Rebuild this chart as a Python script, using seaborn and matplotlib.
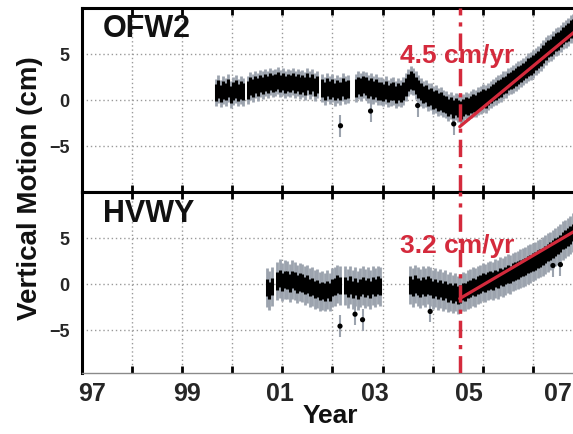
import numpy as np
import pandas as pd
import matplotlib
matplotlib.use("Agg")
import matplotlib.pyplot as plt
import seaborn as sns

# ---------------- data ----------------
step = 0.05
# OFW2 segments: (start year, values in cm every 0.05 yr)
ofw2_segments = [
    (1999.67, [0.8, 1.2, 0.7, 1.1, 0.9, 1.3, 0.6, 1.0, 1.2, 0.8, 1.1, 0.9]),
    (2000.31, [1.1, 1.5, 1.3, 1.7, 1.4, 1.8, 1.6, 1.9, 1.7, 2.0, 1.8, 1.9, 2.1, 1.8,
               2.0, 1.7, 1.9, 1.8, 2.0, 1.7, 1.9, 1.6]),
    (2001.40, [1.8, 1.5, 2.0, 1.6, 1.9, 1.4, 1.7]),
    (2001.80, [1.3, 1.0, 1.4, 1.1, 1.3, 0.9, 1.2, 1.0, 1.4, 1.1, 1.2]),
    (2002.46, [1.3, 1.6, 1.4, 1.7, 1.5, 1.2, 1.4, 1.1, 1.3, 1.0,
               1.0, 0.8, 1.1, 0.7, 0.9, 1.0, 0.6, 0.9, 0.7, 1.0,
               1.4, 1.9, 2.2, 2.0, 1.6, 1.2,
               0.9, 0.6, 0.7, 0.3, 0.4, 0.0, 0.1, -0.2, -0.1, -0.4,
               -0.5, -0.8, -0.6, -1.0, -0.7, -0.9, -1.1, -0.8, -0.6, -0.7,
               -0.5, -0.3, -0.4, -0.1, 0.0, 0.2, 0.1, 0.4, 0.6, 0.8,
               1.0, 1.2, 1.3, 1.6, 1.7, 2.0, 2.1, 2.3, 2.5, 2.7,
               2.9, 3.1, 3.3, 3.6, 3.7, 3.9, 4.2, 4.4, 4.7, 5.0,
               5.3, 5.6, 5.7, 6.0, 6.3, 6.4, 6.7, 7.0, 7.2, 7.4, 7.7, 7.9]),
]
ofw2_outlier_t = [2002.16, 2002.76, 2003.70, 2004.42]
ofw2_outlier_v = [-2.8, -1.2, -0.6, -2.6]

# HVWY segments
hvwy_segments = [
    (2000.69, [-0.4, -0.7, -0.3]),
    (2000.90, [0.3, 0.6, 0.2, 0.5, 0.4, 0.1, 0.5, 0.3, 0.0, 0.2,
               0.1, -0.2, 0.0, -0.4, -0.3, -0.6, -0.5, -0.8, -0.7, -0.9,
               -0.6, -0.9, -0.4, -0.3, 0.0, -0.2]),
    (2002.25, [-0.2, -0.5, -0.1, -0.6, -0.3, -0.7, -0.4, -0.2, -0.5, -0.3,
               -0.6, -0.2, -0.4, -0.1, -0.3]),
    (2003.55, [-0.1, -0.4, 0.0, -0.3, -0.5, -0.2, -0.4, -0.1, -0.3, -0.6,
               -0.4, -0.7, -0.5, -0.8, -0.6, -1.0, -0.8, -1.1, -0.9, -1.2,
               -1.1, -0.8, -0.9, -0.6, -0.5, -0.3, -0.4, -0.1, 0.0, 0.2,
               0.1, 0.3, 0.4, 0.3, 0.6, 0.5, 0.8, 0.7, 0.9, 1.1,
               1.0, 1.3, 1.4, 1.5, 1.7, 1.8, 1.9, 2.1, 2.2, 2.4,
               2.5, 2.7, 2.8, 3.0, 3.2, 3.4, 3.6, 3.8, 4.0, 4.2,
               4.4, 4.7, 4.9, 5.1, 5.3, 5.6, 5.8]),
]
hvwy_outlier_t = [2002.15, 2002.45, 2002.60, 2003.95, 2006.40, 2006.55]
hvwy_outlier_v = [-4.6, -3.3, -3.9, -3.0, 2.0, 2.1]

stations = ["OFW2", "HVWY"]
rates = [4.5, 3.2]              # cm/yr
fit_start_year = 2004.54
fit_start_value = [-2.9, -1.6]  # cm at fit start
fit_end_year = 2007.34

year_ticks = list(range(1997, 2008))
tick_labels = ["97", "99", "01", "03", "05", "07"]
tick_label_pos = [1997.2, 1999.1, 2000.95, 2002.85, 2004.72, 2006.5]
y_ticks = [-5, 0, 5]

RED = "#d42a3c"
GRAY = "#9ca3ae"


def seg_frame(segments):
    rows = []
    for start, vals in segments:
        for i, v in enumerate(vals):
            rows.append((start + i * step, v))
    return pd.DataFrame(rows, columns=["t", "v"])


# ---------------- figure ----------------
sns.set_style("white")
plt.rcParams["font.family"] = ["Liberation Sans", "DejaVu Sans"]
plt.rcParams["font.weight"] = "bold"

W, H = 573, 435
fig = plt.figure(figsize=(W / 100, H / 100), dpi=100)

left = 82 / W
width = (600 - 82) / W
ax_top = fig.add_axes([left, 1 - 193 / H, width, (193 - 9) / H])
ax_bot = fig.add_axes([left, 1 - 374 / H, width, (374 - 193) / H])

panels = [
    (ax_top, ofw2_segments, ofw2_outlier_t, ofw2_outlier_v, (-10, 10), 0.95, 1.5, 4.1),
    (ax_bot, hvwy_segments, hvwy_outlier_t, hvwy_outlier_v, (-9.7, 10), 0.95, 2.1, 3.5),
]

for k, (ax, segs, ot, ov, ylim, bhw, ghw, txt_y) in enumerate(panels):
    df = seg_frame(segs)
    ax.set_xlim(1997, fit_end_year)
    ax.set_ylim(*ylim)

    # grid
    ax.set_xticks(year_ticks, minor=True)
    ax.set_yticks(y_ticks)
    ax.grid(True, which="minor", axis="x", color="#9a9a9a", linestyle=(0, (1, 2)), lw=1.0)
    ax.grid(True, which="major", axis="y", color="#9a9a9a", linestyle=(0, (1, 2)), lw=1.0)
    ax.grid(False, which="major", axis="x")
    ax.set_axisbelow(True)

    # data: gray error bars, black scatter band
    ax.vlines(df["t"], df["v"] - ghw, df["v"] + ghw, color=GRAY, lw=2.0, zorder=2)
    ax.vlines(df["t"], df["v"] - bhw, df["v"] + bhw, color="black", lw=2.2, zorder=3)
    odf = pd.DataFrame({"t": ot, "v": ov})
    ax.vlines(odf["t"], odf["v"] - 1.2, odf["v"] + 1.2, color=GRAY, lw=1.5, zorder=2)
    sns.scatterplot(data=odf, x="t", y="v", ax=ax, color="black", s=14,
                    edgecolor="none", zorder=4, legend=False)

    # fit line
    fit = pd.DataFrame({
        "t": [fit_start_year, fit_end_year],
        "v": [fit_start_value[k],
              fit_start_value[k] + rates[k] * (fit_end_year - fit_start_year)],
    })
    sns.lineplot(data=fit, x="t", y="v", ax=ax, color=RED, lw=2.3, zorder=5)

    # event line
    ax.axvline(fit_start_year, color=RED, lw=2.5, linestyle=(0, (5, 2, 1.2, 2)), zorder=6)

    # rate label
    ax.text(2004.49, txt_y, f"{rates[k]} cm/yr", color=RED, fontsize=19,
            fontweight="bold", ha="center", va="baseline", zorder=7)
    # station label
    ax.text(0.0405, 0.89 if k == 0 else 0.885, stations[k],
            transform=ax.transAxes, fontsize=22, fontweight="bold",
            ha="left", va="center", color="#111111")

    # spines & ticks
    for s in ["left", "top", "bottom", "right"]:
        ax.spines[s].set_color("black")
        ax.spines[s].set_linewidth(2.2)
    ax.tick_params(axis="x", which="minor", direction="in", length=5, width=2,
                   top=True, bottom=True, color="black")
    ax.tick_params(axis="y", which="major", length=0, pad=9, labelsize=13)
    for lab in ax.get_yticklabels():
        lab.set_fontweight("bold")
    ax.set_xlabel("")
    ax.set_ylabel("")
    if k == 0:
        ax.set_xticks(tick_label_pos, [""] * len(tick_label_pos))
        ax.tick_params(axis="x", which="major", length=0)
    else:
        ax.set_xticks(tick_label_pos, tick_labels)
        ax.tick_params(axis="x", which="major", length=0, pad=6)
        for lab in ax.get_xticklabels():
            lab.set_fontsize(18)
            lab.set_family(["Liberation Sans Narrow", "Liberation Sans", "DejaVu Sans"])
            lab.set_fontweight("bold")
        ax.spines["bottom"].set_color("#8a8a8a")
        ax.spines["bottom"].set_linewidth(1.0)

fig.text(30 / W, 1 - 188 / H, "Vertical Motion (cm)", rotation=90, ha="center",
         va="center", fontsize=20, fontweight="bold", color="#111111")
fig.text(330 / W, 1 - 416 / H, "Year", ha="center", va="center", fontsize=19,
         fontweight="bold", color="#111111")

fig.savefig("out.png", dpi=100, facecolor="white")
